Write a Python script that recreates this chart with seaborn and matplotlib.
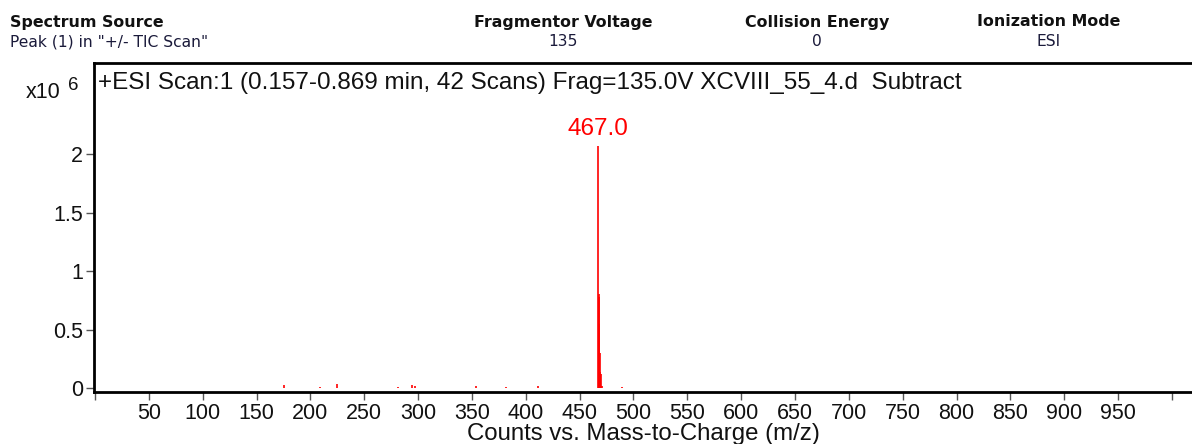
"""
Mass spectrum (+ESI scan) recreated with seaborn / matplotlib
"""

import matplotlib
matplotlib.use('Agg')
import matplotlib.pyplot as plt
import matplotlib.ticker as mticker
import seaborn as sns

# ---- data ----
mz = [175.5, 209.0, 224.5, 281.0, 294.0, 297.0, 354.0, 381.5, 411.0,
      467.0, 467.6, 468.0, 468.4, 468.8, 469.3, 470.0, 471.0, 489.0]
counts = [30000, 10000, 35000, 10000, 30000, 15000, 15000, 10000, 15000,
          2070000, 800000, 780000, 550000, 300000, 140000, 120000, 20000, 12000]

peak_mz = 467.0
peak_label = '467.0'

y_ticks = [0, 500000, 1000000, 1500000, 2000000]

header_titles = ['Spectrum Source', 'Fragmentor Voltage', 'Collision Energy', 'Ionization Mode']
header_values = ['Peak (1) in "+/- TIC Scan"', '135', '0', 'ESI']

scan_title = '+ESI Scan:1 (0.157-0.869 min, 42 Scans) Frag=135.0V XCVIII_55_4.d  Subtract'
x_label = 'Counts vs. Mass-to-Charge (m/z)'

# ---- style ----
sns.set_style("white")
plt.rcParams['font.family'] = ['Liberation Sans', 'DejaVu Sans']

W, H = 1192, 444
fig = plt.figure(figsize=(W / 100, H / 100), dpi=100)

# axes placed in pixel coordinates of the reference
left, right, top, bottom = 94, 1192, 63, 392
ax = fig.add_axes([left / W, 1 - bottom / H, (right - left) / W, (bottom - top) / H])

ax.vlines(mz, 0, counts, color='red', linewidth=1.2)

ax.set_xlim(-0.9, 1018.6)
ax.set_ylim(-34000, 2780000)

ax.xaxis.set_major_locator(mticker.MultipleLocator(50))
ax.xaxis.set_major_formatter(mticker.FuncFormatter(
    lambda v, p: '' if v <= 0 or v >= 1000 else '%d' % v))
ax.yaxis.set_major_locator(mticker.FixedLocator(y_ticks))
ax.yaxis.set_major_formatter(mticker.FuncFormatter(lambda v, p: '%g' % (v / 1e6)))

ax.tick_params(axis='both', which='major', direction='out', length=6, width=1,
               color='#555555', labelsize=15.5, labelcolor='#111111', pad=2,
               bottom=True, left=True)

for side in ['left', 'bottom', 'top']:
    ax.spines[side].set_linewidth(2)
    ax.spines[side].set_color('black')
ax.spines['right'].set_visible(False)
ax.grid(False)

# peak annotation
ax.text(peak_mz, max(counts) + 50000, peak_label, color='red', fontsize=17.5,
        ha='center', va='bottom')

# scan title inside the box
ax.text(0.004, 0.94, scan_title, transform=ax.transAxes, fontsize=17.5,
        ha='left', va='center', color='#111111')

ax.set_xlabel(x_label, fontsize=17.3, labelpad=-1, color='#111111')
ax.set_ylabel('')

# exponent label
fig.text(26 / W, 1 - 92 / H, 'x10', fontsize=15.5, ha='left', va='center', color='#111111')
fig.text(68 / W, 1 - 86 / H, '6', fontsize=13.5, ha='left', va='center', color='#111111')

# header block
hx = [10, 563, 817, 1049]
for i, (t, v) in enumerate(zip(header_titles, header_values)):
    ha = 'left' if i == 0 else 'center'
    fig.text(hx[i] / W, 1 - 22 / H, t, fontsize=11.4, fontweight='bold', ha=ha,
             va='center', family='DejaVu Sans', color='#111111')
    fig.text(hx[i] / W, 1 - 42 / H, v, fontsize=11.2, ha=ha, va='center',
             family='DejaVu Sans', color='#1a1a3a')

plt.savefig('out.png', dpi=100)
print("[OK] out.png")
